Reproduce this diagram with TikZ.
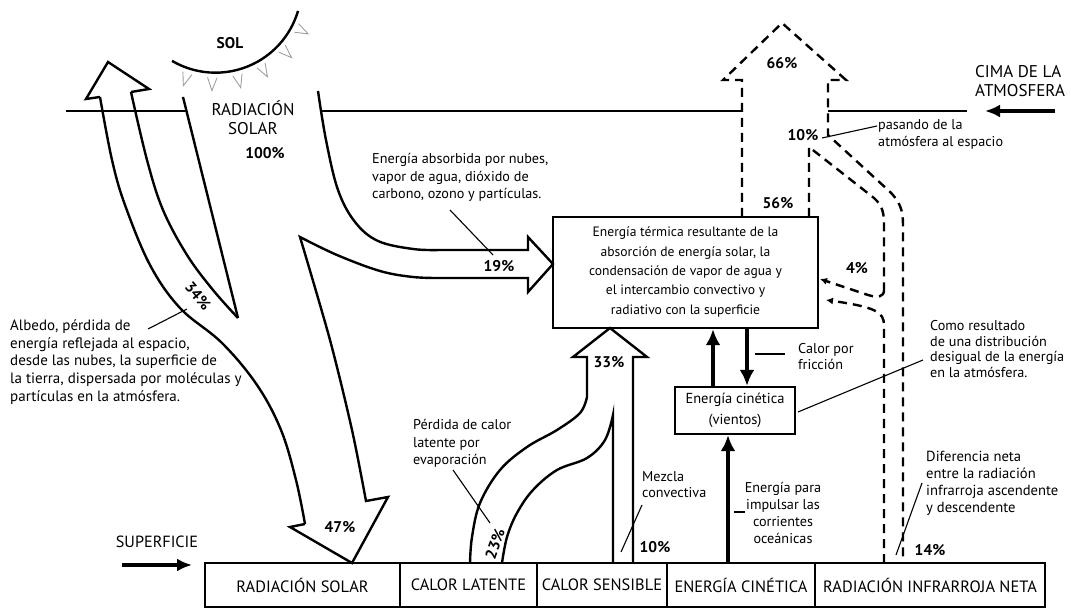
\documentclass[tikz,border=0pt]{standalone}
\usepackage{fontspec}
\setmainfont{PT Sans}
\usetikzlibrary{arrows.meta}
\begin{document}
\begin{tikzpicture}[x=1pt,y=-1pt,
  outl/.style={line width=2.4pt, line join=miter},
  dsh/.style={line width=2.4pt, dash pattern=on 9pt off 6pt, line join=miter},
  bigarrow/.style={line width=3.6pt, -{Latex[length=16pt,width=15pt]}},
  smallarrow/.style={line width=2.4pt, dash pattern=on 9pt off 6pt, -{Latex[length=7pt,width=7pt]}},
  lbl/.style={font=\fontsize{14.2}{17.6}\selectfont, align=left, inner sep=0pt},
  pct/.style={font=\fontsize{15.5}{17}\selectfont\bfseries, inner sep=0pt},
  capt/.style={font=\fontsize{17}{19}\selectfont, align=left, inner sep=0pt},
  botbox/.style={draw, line width=2pt, minimum height=44pt, inner sep=0pt, font=\fontsize{16.4}{18}\selectfont},
  lead/.style={line width=1.1pt},
  ray/.style={gray!75, line width=0.9pt}]
\useasboundingbox (0,0) rectangle (1071,609);

% ---------- top of atmosphere line ----------
\draw[line width=2.4pt] (66,111) -- (186,111);
\draw[line width=2.4pt] (322,111) -- (742,111);
\draw[line width=2.4pt] (828,111) -- (967,111);

% ---------- sun ----------
\coordinate (sunc) at (215.5,-13.3);
\draw[line width=2.4pt] ([shift={(sunc)}]120.4:86) arc[start angle=120.4, end angle=16.4, radius=86];
\foreach \a in {108,92,76,60,43,27}{
  \draw[ray] ([shift={(sunc)}]\a+3:91) -- ([shift={(sunc)}]\a:104) -- ([shift={(sunc)}]\a-3:91);
}
\node[font=\fontsize{15.5}{17}\selectfont\bfseries, inner sep=0pt] (sol) at (230,43) {SOL};

% ---------- incoming solar band, albedo, 47 % ----------
\draw[outl] plot[smooth, tension=0.6] coordinates {(100,97) (112,160) (125,205) (150,265) (180,308) (222,343) (257,385) (281,430) (296,480) (305,524)};
\draw[outl] (100,97) -- (86,99) -- (108,62) -- (149,89) -- (131,92);
\draw[outl] plot[smooth, tension=0.6] coordinates {(131,92) (147,160) (163,210) (187,255) (213,290) (238,318)};
\draw[outl] (183,97) -- (238,318);
\draw[outl] plot[smooth, tension=0.6] coordinates {(318,91) (326,140) (338,190) (355,222) (378,241) (413,249) (440,250)}
  -- (528,250) -- (528,237) -- (553,264) -- (528,292) -- (528,278) -- (440,278)
  -- plot[smooth, tension=0.6] coordinates {(440,278) (413,277) (380,271) (337,255) (300,237)}
  -- plot[smooth, tension=0.5] coordinates {(300,237) (330,340) (352,430) (366,501)}
  -- (388,497) -- (352,563) -- (290,527) -- (305,524);

% ---------- latent / sensible heat, 33 % ----------
\draw[outl] plot[smooth, tension=0.6] coordinates {(470,563) (472,537) (480,503) (500,470) (527,447) (557,430) (580,413) (587,397)}
  -- (587,357) -- (573,357) -- (610,328) -- (647,357) -- (633,357) -- (633,563);
\draw[outl] plot[smooth, tension=0.6] coordinates {(502,563) (507,537) (517,513) (533,490) (557,470) (587,458) (605,440) (613,415)}
  -- (613,563);

% ---------- boxes ----------
\node[draw, line width=2.4pt, minimum width=265pt, minimum height=111pt, inner sep=0pt] (term) at (685.5,272.5) {};
\node[align=center, inner sep=0pt, font=\fontsize{13.6}{19.3}\selectfont] (termtxt) at (685.5,272) {Energía térmica resultante de la\\absorción de energía solar, la\\condensación de vapor de agua y\\el intercambio convectivo y\\radiativo con la superficie};
\node[draw, line width=2.4pt, minimum width=120pt, minimum height=47pt, inner sep=0pt, align=center, font=\fontsize{14.5}{21}\selectfont] (cin) at (735,410.5) {Energía cinética\\(vientos)};

\node[botbox, minimum width=195pt] (b1) at (302.5,585) {RADIACIÓN SOLAR};
\node[botbox, minimum width=137pt] (b2) at (468.5,585) {CALOR LATENTE};
\node[botbox, minimum width=130pt] (b3) at (602,585) {CALOR SENSIBLE};
\node[botbox, minimum width=148pt] (b4) at (741,585) {ENERGÍA CINÉTICA};
\node[botbox, minimum width=230pt] (b5) at (930,585) {RADIACIÓN INFRARROJA NETA};

% ---------- thick arrows ----------
\coordinate (xa) at (713,0);
\coordinate (xb) at (747,0);
\coordinate (xc) at (728,0);
\draw[bigarrow] (cin.north -| xa) -- (term.south -| xa);
\draw[bigarrow] (term.south -| xb) -- (cin.north -| xb);
\draw[bigarrow] (b4.north -| xc) -- (cin.south -| xc);

% ---------- dashed infrared flows ----------
\draw[dsh] (742,217) -- (742,80) -- (723,80) -- (782,23) -- (846,80) -- (828,80) -- (828,135)
  -- (888,190) .. controls (900,201) and (903,210) .. (903,225) -- (903,563);
\draw[dsh] (809,217) -- (809,147) -- (874,198) .. controls (883,206) and (884,214) .. (884,225) -- (884,290);
\draw[smallarrow] (884,290) .. controls (884,297) and (878,298) .. (868,295) -- (820,279);
\draw[smallarrow] (884,563) -- (884,325) .. controls (884,312) and (875,307) .. (826,300);

% ---------- side arrows ----------
\node[capt, anchor=west] (cima) at (975,81.5) {CIMA DE LA\\ATMOSFERA};
\draw[line width=3.4pt, -{Latex[length=15pt,width=13pt]}] (1055,111) -- (985,111);
\node[font=\fontsize{16.2}{18}\selectfont, inner sep=0pt] (sup) at (157,542) {SUPERFICIE};
\draw[line width=3.4pt, -{Latex[length=15pt,width=13pt]}] (122,565) -- (192,565);

% ---------- captions ----------
\node[capt, align=center] (radsol) at (253,118) {RADIACIÓN\\SOLAR};
\node[pct] (p100) at (265,153) {100\%};
\node[pct] (p19) at (499,266) {19\%};
\node[pct] (p47) at (340,527) {47\%};
\node[pct, rotate=-50] (p34) at (198,296) {34\%};
\node[pct, rotate=70] (p23) at (495,544) {23\%};
\node[pct] (p33) at (609,362) {33\%};
\node[pct] (p10a) at (655,547) {10\%};
\node[pct] (p14) at (930,550) {14\%};
\node[pct] (p56) at (778,203) {56\%};
\node[pct] (p66) at (782,63) {66\%};
\node[pct] (p10b) at (803,135) {10\%};
\node[pct] (p4) at (857,268) {4\%};

\node[lbl, anchor=west, font=\fontsize{15}{17.8}\selectfont] (alb) at (10,362) {Albedo, pérdida de\\energía reflejada al espacio,\\desde las nubes, la superficie de\\la tierra, dispersada por moléculas y\\partículas en la atmósfera.};
\draw[lead] (148,329) -- (187,309);

\node[lbl, anchor=west] (abs) at (372,177.5) {Energía absorbida por nubes,\\vapor de agua, dióxido de\\carbono, ozono y partículas.};
\draw[lead] (450,210) -- (493,255);

\node[lbl, anchor=west, font=\fontsize{14.2}{17}\selectfont] (pas) at (878,134.5) {pasando de la\\atmósfera al espacio};
\draw[lead] (822,138) -- (877,126);

\node[lbl, anchor=west, font=\fontsize{14.2}{16}\selectfont] (fric) at (798,357) {Calor por\\fricción};
\draw[lead] (755,354) -- (785,354);

\node[lbl, anchor=west, font=\fontsize{14.2}{15.4}\selectfont] (como) at (930,349) {Como resultado\\de una distribución\\desigual de la energía\\en la atmósfera.};
\draw[lead] (798,412) -- (923,360);

\node[lbl, align=center, font=\fontsize{14.2}{16.7}\selectfont] (imp) at (783,513) {Energía para\\impulsar las\\corrientes\\oceánicas};
\draw[lead] (734,512) -- (745,512);

\node[lbl, anchor=west, font=\fontsize{14.2}{16}\selectfont] (mez) at (642,485) {Mezcla\\convectiva};
\draw[lead] (621,552) -- (642,505);

\node[lbl, anchor=west] (perd) at (413,443.5) {Pérdida de calor\\latente por\\evaporación};
\draw[lead] (453,470) -- (490,523);

\node[lbl, anchor=west, font=\fontsize{14.6}{17}\selectfont] (dif) at (926,483.5) {Diferencia neta\\entre la radiación\\infrarroja ascendente\\y descendente};
\draw[lead] (896,555) -- (922,483);
\end{tikzpicture}
\end{document}
